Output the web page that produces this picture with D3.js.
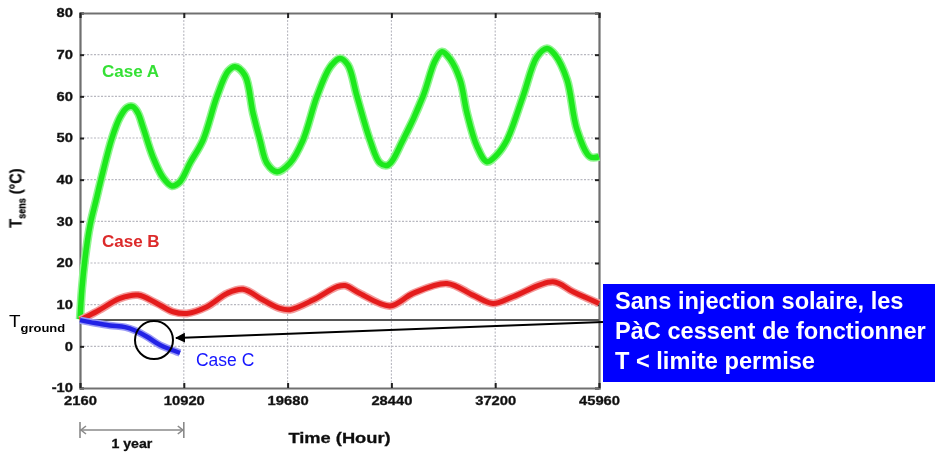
<!DOCTYPE html>
<html>
<head>
<meta charset="utf-8">
<script src="https://cdn.jsdelivr.net/npm/d3@7"></script>
<style>
  html, body { margin: 0; padding: 0; background: #fff; }
  svg { display: block; font-family: "Liberation Sans", Arial, sans-serif; }
</style>
</head>
<body>
<svg id="chart" width="936" height="452"></svg>
<script>
// Storage temperature over five years of operation (hours since start of simulation)
const xTicks = [2160, 10920, 19680, 28440, 37200, 45960];
const yTicks = [-10, 0, 10, 20, 30, 40, 50, 60, 70, 80];
const tGround = 6.3;

// Case A: with solar injection
const caseAHours = [2160, 2329, 2582, 3004, 3510, 4017, 4860, 5536, 6127, 6633, 7055, 7477, 8321, 9164, 9924, 10599,
  11443, 12540, 13722, 14650, 15241, 16085, 16760, 17351, 17942, 18786, 19883, 20980, 22161, 23258, 24102, 24777,
  25536, 26633, 27477, 28152, 29418, 31106, 32119, 32710, 33385, 34228, 34819, 35663, 36507, 37351, 38194, 39545,
  40726, 41570, 42245, 43258, 44102, 45199, 45960];
const caseAVals = [6.5, 14, 21, 29, 35, 41, 50, 55, 57.3, 57.5, 56, 52.6, 45.4, 40.5, 38.5, 39.5,
  44, 49.5, 60, 66, 67.1, 65, 56, 49.5, 43.9, 41.9, 44, 49.5, 60, 67, 69.1, 67.5,
  60, 49.5, 44, 43.5, 49.5, 60, 68.5, 70.7, 69, 64, 56, 48, 44.3, 46, 49.5, 60,
  69.5, 71.5, 70, 64, 52, 45.5, 45.5];

// Case B: reduced solar injection
const caseBHours = [2160, 3004, 3848, 5536, 7055, 8658, 10008, 11190, 12878, 14565, 15916, 17604, 19038, 19883,
  21824, 23849, 24524, 25790, 28321, 30262, 33131, 35326, 37013, 38701, 42076, 43764, 45960];
const caseBVals = [6.3, 7.5, 8.8, 11.5, 12.3, 10.3, 8.3, 7.9, 9.5, 12.7, 13.7, 11.1, 9.1, 8.8,
  11.1, 14.3, 14.6, 12.7, 9.7, 12.7, 15.1, 12.3, 10.3, 11.9, 15.5, 13.1, 10.3];

// Case C: no solar injection (heat pumps stop after the first year)
const caseCHours = [2160, 3426, 4692, 5958, 6801, 7814, 8911, 9755, 10599];
const caseCVals = [6.3, 5.6, 5.0, 4.6, 3.8, 2.3, 0.3, -0.7, -1.6];

const noteLines = ["Sans injection solaire, les", "PàC cessent de fonctionner", "T < limite permise"];

const svg = d3.select("#chart");
const plot = { left: 80, right: 599, top: 13, bottom: 388 };

const x = d3.scaleLinear().domain([2160, 45960]).range([plot.left, plot.right]);
const y = d3.scaleLinear().domain([-10, 80]).range([plot.bottom, plot.top]);

const defs = svg.append("defs");
defs.append("filter").attr("id", "soft")
  .attr("x", "-5%").attr("y", "-5%").attr("width", "110%").attr("height", "110%")
  .append("feGaussianBlur").attr("stdDeviation", 0.55);
defs.append("marker").attr("id", "head")
  .attr("viewBox", "0 0 10 10").attr("refX", 9).attr("refY", 5)
  .attr("markerWidth", 5).attr("markerHeight", 5).attr("orient", "auto")
  .append("path").attr("d", "M0,0 L10,5 L0,10 z").attr("fill", "#000");

const chart = svg.append("g").attr("filter", "url(#soft)");
const SX = 1.18; // horizontal stretch of the chart lettering

// dotted grid
const gridY = yTicks.filter(v => v > -10 && v < 80);
chart.append("g").selectAll("line").data(gridY).join("line")
  .attr("x1", plot.left).attr("x2", plot.right)
  .attr("y1", d => y(d)).attr("y2", d => y(d))
  .attr("stroke", "#b8b8c0").attr("stroke-width", 1.1).attr("stroke-dasharray", "2,1.5");
const gridX = xTicks.slice(1, -1);
chart.append("g").selectAll("line").data(gridX).join("line")
  .attr("x1", d => x(d)).attr("x2", d => x(d))
  .attr("y1", plot.top).attr("y2", plot.bottom)
  .attr("stroke", "#b8b8c0").attr("stroke-width", 1.1).attr("stroke-dasharray", "2,1.5");

// axes with inward ticks
const fmt = d => String(d);
const axL = chart.append("g").attr("transform", `translate(${plot.left},0)`)
  .call(d3.axisLeft(y).tickValues(yTicks).tickSize(-4).tickPadding(7).tickFormat(fmt));
const axR = chart.append("g").attr("transform", `translate(${plot.right},0)`)
  .call(d3.axisRight(y).tickValues(yTicks).tickSize(-4).tickFormat(""));
const axB = chart.append("g").attr("transform", `translate(0,${plot.bottom})`)
  .call(d3.axisBottom(x).tickValues(xTicks).tickSize(-5).tickPadding(8).tickFormat(fmt));
const axT = chart.append("g").attr("transform", `translate(0,${plot.top})`)
  .call(d3.axisTop(x).tickValues(xTicks).tickSize(-5).tickFormat(""));
[axL, axR, axB, axT].forEach(g => {
  g.select(".domain").attr("stroke", "#707070").attr("stroke-width", 2.2);
  g.selectAll(".tick line").attr("stroke", "#222").attr("stroke-width", 2);
  g.selectAll(".tick text").attr("fill", "#111").attr("stroke", "#222").attr("stroke-width", 0.35)
    .attr("font-size", 12.5).attr("font-weight", "bold")
    .attr("font-family", "Liberation Sans, Arial, sans-serif")
    .attr("transform", `scale(${SX},1)`);
});
axL.selectAll(".tick text").attr("x", -7 / SX).attr("dy", "0.3em");

// ground temperature reference
chart.append("line")
  .attr("x1", plot.left).attr("x2", plot.right)
  .attr("y1", y(tGround)).attr("y2", y(tGround))
  .attr("stroke", "#555").attr("stroke-width", 2);

// series
const series = [
  { h: caseAHours, v: caseAVals, color: "#1fe81f", halo: "#8ff58f", w: 5.5 },
  { h: caseBHours, v: caseBVals, color: "#e41c1c", halo: "#f39a9a", w: 5 },
  { h: caseCHours, v: caseCVals, color: "#2222e6", halo: "#9a9af5", w: 4.5 }
];
const line = d3.line().x(d => x(d[0])).y(d => y(d[1])).curve(d3.curveCatmullRom.alpha(0.5));
series.forEach(s => {
  const pts = s.h.map((h, i) => [h, s.v[i]]);
  chart.append("path").datum(pts).attr("d", line).attr("fill", "none")
    .attr("stroke", s.halo).attr("stroke-width", s.w + 3).attr("stroke-linejoin", "round");
  chart.append("path").datum(pts).attr("d", line).attr("fill", "none")
    .attr("stroke", s.color).attr("stroke-width", s.w).attr("stroke-linejoin", "round");
});

// series labels
chart.append("text").attr("x", x(4017)).attr("y", y(64.6)).text("Case A")
  .attr("fill", "#36e036").attr("font-size", 17).attr("font-weight", "bold");
chart.append("text").attr("x", x(4017)).attr("y", y(23.8)).text("Case B")
  .attr("fill", "#dc2a2a").attr("font-size", 17).attr("font-weight", "bold");

// axis titles
chart.append("text")
  .attr("transform", `translate(${(plot.left + plot.right) / 2},443) scale(${SX},1)`)
  .attr("text-anchor", "middle").attr("font-size", 15.5).attr("font-weight", "bold").attr("fill", "#111")
  .attr("stroke", "#111").attr("stroke-width", 0.3)
  .text("Time (Hour)");
const yt = chart.append("text")
  .attr("transform", `translate(21,198) rotate(-90) scale(1,${SX})`)
  .attr("text-anchor", "middle").attr("font-size", 14.5).attr("font-weight", "bold").attr("fill", "#111")
  .attr("stroke", "#111").attr("stroke-width", 0.3);
yt.append("tspan").text("T");
yt.append("tspan").attr("font-size", 9).attr("dy", 4).text("sens");
yt.append("tspan").attr("dy", -4).text(" (°C)");

// one-year span below the axis
const spanY = 430;
const yr = chart.append("g").attr("stroke", "#8a8a8a").attr("stroke-width", 1.6).attr("fill", "none");
yr.append("line").attr("x1", x(2160)).attr("x2", x(10920)).attr("y1", spanY).attr("y2", spanY);
[x(2160), x(10920)].forEach((px, i) => {
  yr.append("line").attr("x1", px).attr("x2", px).attr("y1", spanY - 8).attr("y2", spanY + 8);
  const d = i === 0 ? 1 : -1;
  yr.append("path").attr("d", `M${px + d * 6},${spanY - 4} L${px + d},${spanY} L${px + d * 6},${spanY + 4}`);
});
chart.append("text")
  .attr("transform", `translate(${(x(2160) + x(10920)) / 2},448) scale(${SX},1)`)
  .attr("text-anchor", "middle").attr("font-size", 12).attr("font-weight", "bold").attr("fill", "#111")
  .attr("stroke", "#111").attr("stroke-width", 0.3)
  .text("1 year");

// T ground label
const tg = svg.append("text")
  .attr("transform", `translate(9,${y(tGround) + 7}) scale(${SX},1)`)
  .attr("fill", "#000");
tg.append("tspan").attr("font-size", 16).text("T");
tg.append("tspan").attr("font-size", 11).attr("font-weight", "bold").attr("dy", 5).text("ground");

// highlighted stop of Case C
svg.append("circle").attr("cx", x(8405)).attr("cy", y(1.5)).attr("r", 19)
  .attr("fill", "none").attr("stroke", "#000").attr("stroke-width", 2);

svg.append("text").attr("x", x(11949)).attr("y", y(-4.7)).text("Case C")
  .attr("fill", "#1515ff").attr("font-size", 17.5);

// note box
const box = { x: 603, y: 284, w: 332, h: 98 };
svg.append("line")
  .attr("x1", box.x).attr("y1", 322)
  .attr("x2", x(10261)).attr("y2", y(2.0))
  .attr("stroke", "#000").attr("stroke-width", 2).attr("marker-end", "url(#head)");
svg.append("rect").attr("x", box.x).attr("y", box.y).attr("width", box.w).attr("height", box.h)
  .attr("fill", "#0000ff");
svg.append("g").selectAll("text").data(noteLines).join("text")
  .attr("x", box.x + 12).attr("y", (d, i) => box.y + 25 + i * 30)
  .attr("fill", "#fff").attr("font-size", 23.6).attr("font-weight", "bold")
  .text(d => d);
</script>
</body>
</html>
